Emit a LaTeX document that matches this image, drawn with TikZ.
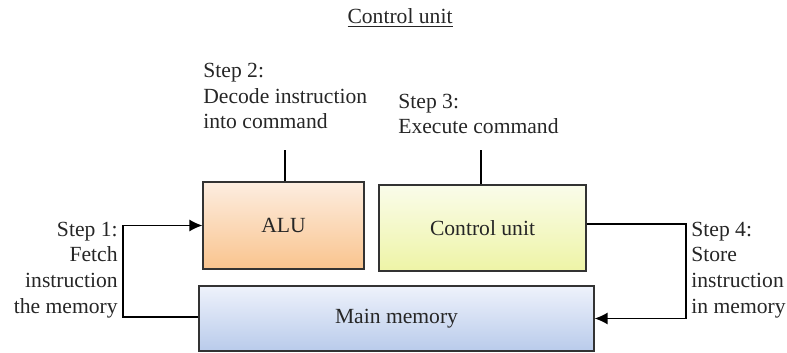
\documentclass[tikz,border=0pt]{standalone}
\usepackage{fontspec}
\setmainfont{Liberation Serif}
\usepackage{tikz}
\usetikzlibrary{arrows.meta,positioning}

\definecolor{aluTop}{HTML}{FDEDE0}
\definecolor{aluBot}{HTML}{F9C48E}
\definecolor{cuTop}{HTML}{FAFCEA}
\definecolor{cuBot}{HTML}{EEF4A6}
\definecolor{memTop}{HTML}{EEF2FB}
\definecolor{memBot}{HTML}{B9CBEB}

\begin{document}
\begin{tikzpicture}[
    x=0.5pt, y=-0.5pt,
    every node/.style={font=\fontsize{10.8}{12.85}\selectfont, text=black!85},
    unit/.style={rectangle, draw=black!80, line width=0.6pt, inner sep=0pt},
    steptext/.style={inner sep=0pt},
    arrow/.style={-{Latex[length=6.5pt,width=6pt]}, line width=0.7pt},
    wire/.style={line width=0.7pt}
]
\useasboundingbox (0,0) rectangle (787,353);

% Title
\node (title) at (400,18) {\underline{Control unit}};

% Units
\node[unit, top color=aluTop, bottom color=aluBot, minimum width=80.5pt, minimum height=43.5pt] (alu) at (283.5,225.5) {ALU};
\node[unit, top color=cuTop, bottom color=cuBot, minimum width=103.5pt, minimum height=43pt] (cu) at (482.5,228) {Control unit};
\node[unit, top color=memTop, bottom color=memBot, minimum width=197.5pt, minimum height=32.5pt] (mem) at (396.5,318.5) {Main memory};

% Step labels
\node[steptext, anchor=east, align=right] (step1) at (118,270) {Step 1:\\Fetch\\instruction\\the memory};
\node[steptext, anchor=west, align=left] (step2) at (203,96) {Step 2:\\Decode instruction\\into command};
\node[steptext, anchor=west, align=left] (step3) at (398,114) {Step 3:\\Execute command};
\node[steptext, anchor=west, align=left] (step4) at (691,270) {Step 4:\\Store\\instruction\\in memory};

% Connectors
\coordinate (lturn) at (123,317);
\coordinate (rturn) at (686,224);
\coordinate (alutick) at (285,150);
\coordinate (cutick) at (481,150);

\draw[arrow] (lturn -| mem.west) -- (lturn) |- (alu.west);
\draw[arrow] (rturn -| cu.east) -- (rturn) |- (mem.east);
\draw[wire] (alu.north -| alutick) -- (alutick);
\draw[wire] (cu.north -| cutick) -- (cutick);

\end{tikzpicture}
\end{document}
